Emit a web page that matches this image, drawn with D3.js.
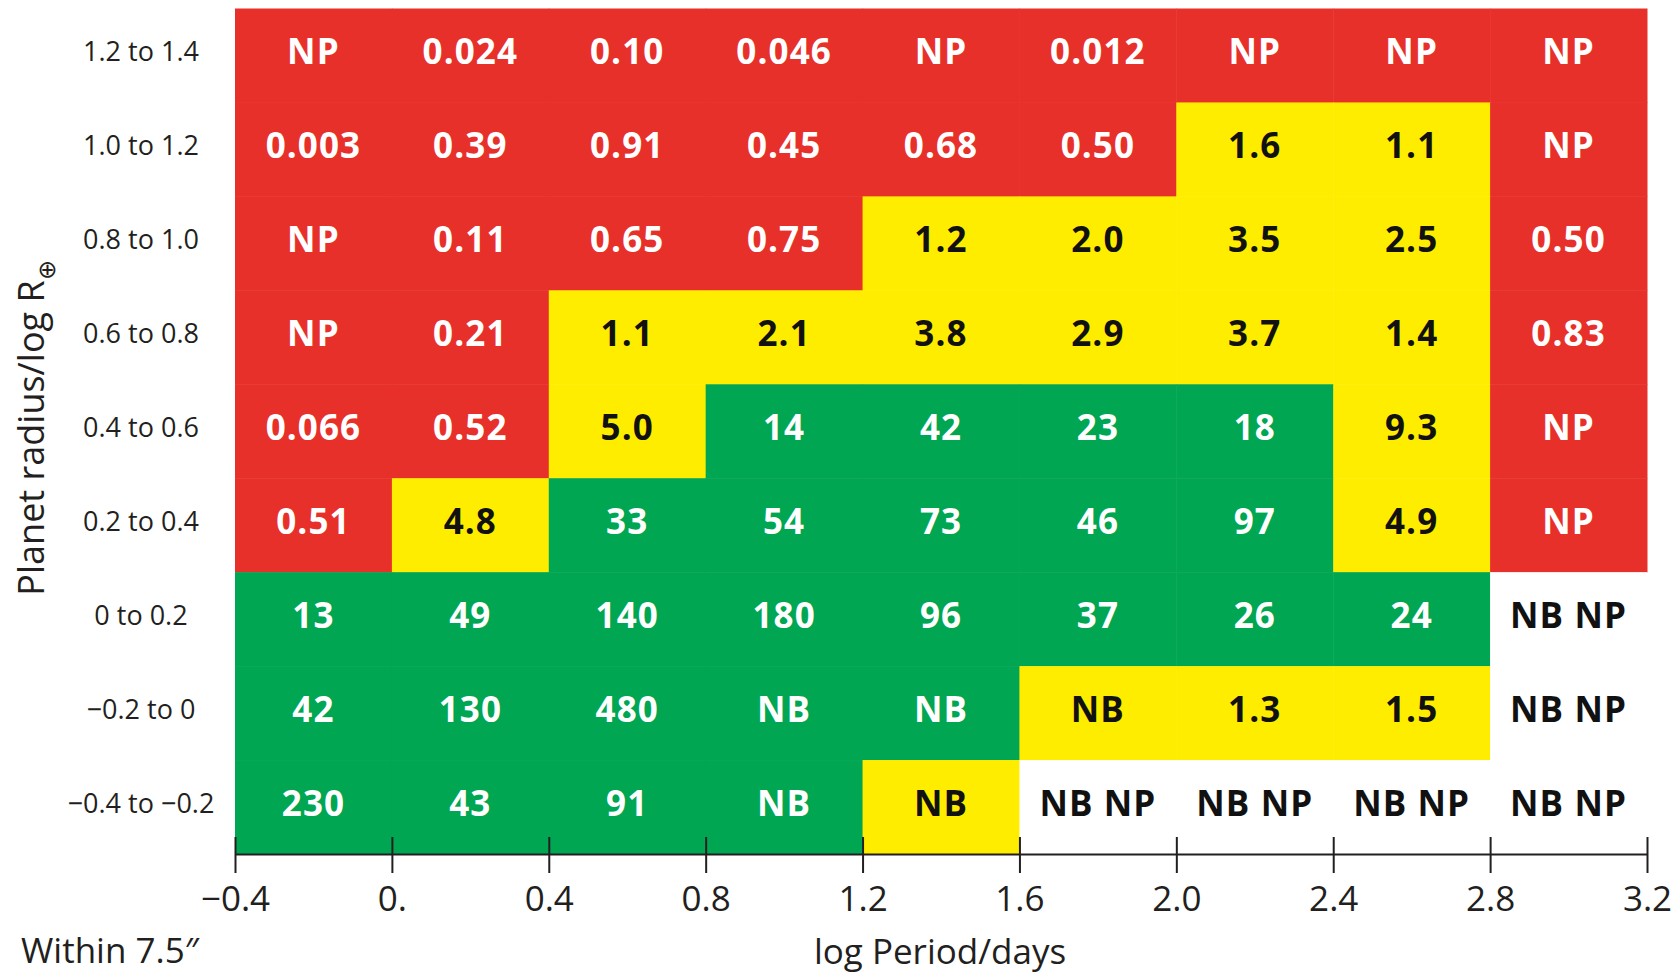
<!DOCTYPE html>
<html>
<head>
<meta charset="utf-8">
<script src="https://cdn.jsdelivr.net/npm/d3@7"></script>
<style>
  html, body { margin: 0; padding: 0; background: #ffffff; }
  svg { display: block; }
  text { font-family: "Open Sans", "Noto Sans", sans-serif; }
</style>
</head>
<body>
<svg id="chart" width="1675" height="974"></svg>
<script>
// Bin edges along log period (days) and their printed tick labels
const periodEdges = [-0.4, 0, 0.4, 0.8, 1.2, 1.6, 2.0, 2.4, 2.8, 3.2];
const periodTickLabels = ["\u22120.4", "0.", "0.4", "0.8", "1.2", "1.6", "2.0", "2.4", "2.8", "3.2"];

// Planet radius bins (log R⊕), top row first
const radiusBins = [
  "1.2 to 1.4", "1.0 to 1.2", "0.8 to 1.0", "0.6 to 0.8", "0.4 to 0.6",
  "0.2 to 0.4", "0 to 0.2", "\u22120.2 to 0", "\u22120.4 to \u22120.2"
];

// Cell entries, one row per radius bin, one column per period bin
const cellValues = [
  ["NP", "0.024", "0.10", "0.046", "NP", "0.012", "NP", "NP", "NP"],
  ["0.003", "0.39", "0.91", "0.45", "0.68", "0.50", "1.6", "1.1", "NP"],
  ["NP", "0.11", "0.65", "0.75", "1.2", "2.0", "3.5", "2.5", "0.50"],
  ["NP", "0.21", "1.1", "2.1", "3.8", "2.9", "3.7", "1.4", "0.83"],
  ["0.066", "0.52", "5.0", "14", "42", "23", "18", "9.3", "NP"],
  ["0.51", "4.8", "33", "54", "73", "46", "97", "4.9", "NP"],
  ["13", "49", "140", "180", "96", "37", "26", "24", "NB NP"],
  ["42", "130", "480", "NB", "NB", "NB", "1.3", "1.5", "NB NP"],
  ["230", "43", "91", "NB", "NB", "NB NP", "NB NP", "NB NP", "NB NP"]
];

// Cell classes: L = low, M = moderate, H = high, X = no data
const cellClasses = [
  "LLLLLLLLL",
  "LLLLLLMML",
  "LLLLMMMML",
  "LLMMMMMML",
  "LLMHHHHML",
  "LMHHHHHML",
  "HHHHHHHHX",
  "HHHHHMMMX",
  "HHHHMXXXX"
];

const xTitle = "log Period/days";
const yTitle = "Planet radius/log R";
const noteText = "Within 7.5\u2033";

const svg = d3.select("#chart");

const x = d3.scaleLinear()
  .domain([periodEdges[0], periodEdges[periodEdges.length - 1]])
  .range([235, 1647]);

const y = d3.scaleBand()
  .domain(radiusBins)
  .range([8.5, 854])
  .padding(0);

const fill = d3.scaleOrdinal()
  .domain(["L", "M", "H", "X"])
  .range(["#e8302a", "#ffed00", "#00a651", "#ffffff"]);

const ink = d3.scaleOrdinal()
  .domain(["L", "M", "H", "X"])
  .range(["#ffffff", "#111111", "#ffffff", "#111111"]);

// Flatten the table into cell records
const cells = [];
radiusBins.forEach((bin, r) => {
  for (let c = 0; c < periodEdges.length - 1; c++) {
    cells.push({
      row: bin,
      x0: periodEdges[c],
      x1: periodEdges[c + 1],
      value: cellValues[r][c],
      cls: cellClasses[r][c]
    });
  }
});

// Coloured cells
svg.append("g")
  .selectAll("rect")
  .data(cells)
  .join("rect")
  .attr("x", d => x(d.x0))
  .attr("y", d => y(d.row))
  .attr("width", d => x(d.x1) - x(d.x0) + 0.5)
  .attr("height", y.bandwidth() + 0.5)
  .attr("fill", d => fill(d.cls));

// Cell labels
svg.append("g")
  .selectAll("text")
  .data(cells)
  .join("text")
  .attr("x", d => (x(d.x0) + x(d.x1)) / 2)
  .attr("y", d => y(d.row) + y.bandwidth() / 2 + 9)
  .attr("text-anchor", "middle")
  .attr("font-size", 35)
  .attr("font-weight", 700)
  .attr("letter-spacing", 1.1)
  .attr("fill", d => ink(d.cls))
  .text(d => d.value);

// Radius bin labels
svg.append("g")
  .selectAll("text")
  .data(radiusBins)
  .join("text")
  .attr("x", 141)
  .attr("y", d => y(d) + y.bandwidth() / 2 + 6)
  .attr("text-anchor", "middle")
  .attr("font-size", 27)
  .attr("fill", "#231f20")
  .text(d => d);

// Period axis
const xAxis = d3.axisBottom(x)
  .tickValues(periodEdges)
  .tickFormat((d, i) => periodTickLabels[i])
  .tickSizeOuter(0)
  .tickSizeInner(19)
  .tickPadding(0);

const axisG = svg.append("g")
  .attr("transform", "translate(0,854)")
  .call(xAxis);

axisG.select(".domain")
  .attr("stroke", "#231f20")
  .attr("stroke-width", 2.2);

axisG.selectAll(".tick line")
  .attr("stroke", "#231f20")
  .attr("stroke-width", 2)
  .attr("y1", -17)
  .attr("y2", 19);

axisG.selectAll(".tick text")
  .attr("y", 57)
  .attr("dy", null)
  .attr("font-size", 35)
  .attr("font-family", "\"Open Sans\", sans-serif")
  .attr("fill", "#231f20");

// Axis titles and note
svg.append("text")
  .attr("x", 940)
  .attr("y", 964)
  .attr("text-anchor", "middle")
  .attr("font-size", 35)
  .attr("fill", "#231f20")
  .text(xTitle);

svg.append("text")
  .attr("x", 21)
  .attr("y", 963)
  .attr("font-size", 35)
  .attr("fill", "#231f20")
  .text(noteText);

const yLab = svg.append("text")
  .attr("transform", "translate(44,428) rotate(-90)")
  .attr("text-anchor", "middle")
  .attr("font-size", 36)
  .attr("fill", "#231f20");
yLab.append("tspan").text(yTitle);
yLab.append("tspan")
  .attr("font-size", 24)
  .attr("dy", 11)
  .text("\u2295");
</script>
</body>
</html>
